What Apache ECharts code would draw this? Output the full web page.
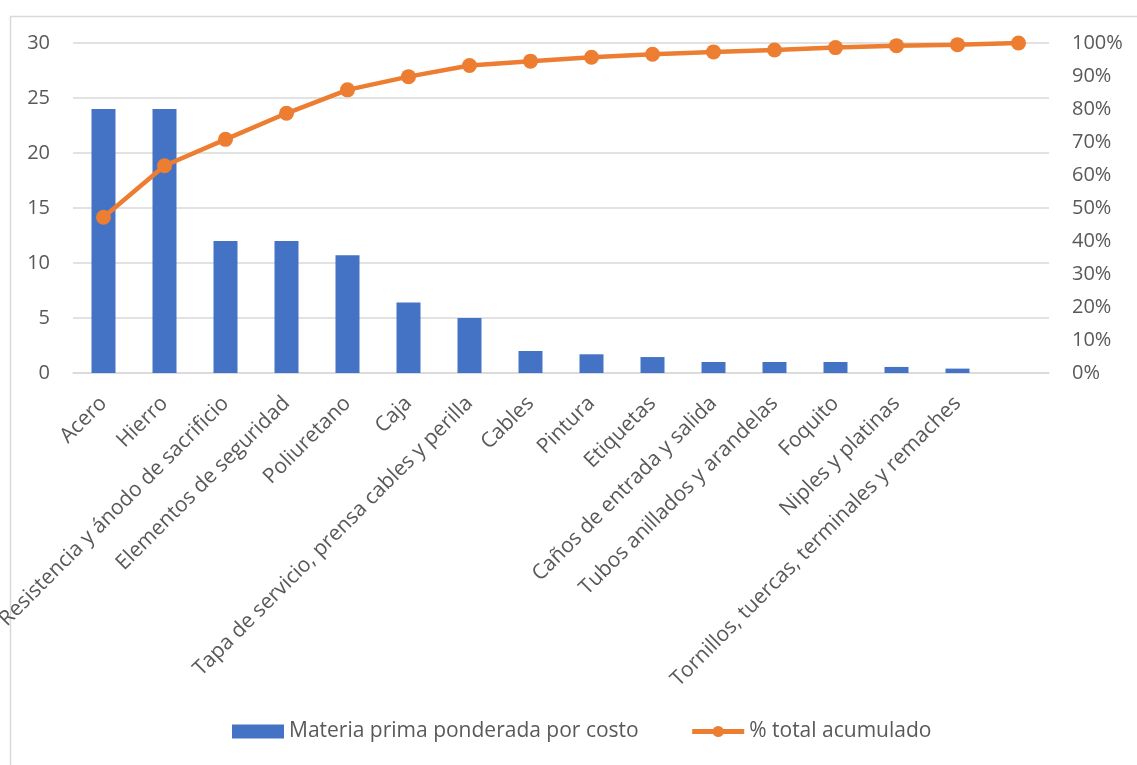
<!DOCTYPE html>
<html>
<head>
<meta charset="utf-8">
<script src="https://cdn.jsdelivr.net/npm/echarts@6/dist/echarts.min.js"></script>
<style>html,body{margin:0;padding:0;background:#fff;}#c{width:1137px;height:765px;}</style>
</head>
<body>
<div id="c"></div>
<script>
const categories = ['Acero','Hierro','Resistencia y ánodo de sacrificio','Elementos de seguridad','Poliuretano','Caja','Tapa de servicio, prensa cables y perilla','Cables','Pintura','Etiquetas','Caños de entrada y salida','Tubos anillados y arandelas','Foquito','Niples y platinas','Tornillos, tuercas, terminales y remaches',''];
const costValues = [24, 24, 12, 12, 10.7, 6.4, 5.0, 2.0, 1.7, 1.45, 1.0, 1.0, 1.0, 0.55, 0.4, null];
const cumulativePct = [47.2, 62.8, 70.8, 78.7, 85.8, 89.8, 93.2, 94.5, 95.7, 96.6, 97.3, 97.9, 98.6, 99.2, 99.5, 100];
const leftTicks = {min: 0, max: 30, interval: 5};
const rightTicks = {min: 0, max: 100, interval: 10};
const seriesNames = ['Materia prima ponderada por costo', '% total acumulado'];

const FONT = '"Open Sans", Lato, sans-serif';
const chart = echarts.init(document.getElementById('c'), null, {renderer: 'canvas'});
chart.setOption({
  backgroundColor: '#fff',
  animation: false,
  textStyle: {fontFamily: FONT},
  graphic: [{
    type: 'rect', left: 8, top: 14,
    shape: {width: 1140, height: 760},
    style: {fill: 'none', stroke: '#d9d9d9', lineWidth: 1.5},
    silent: true, z: -10
  }],
  grid: {left: 73, right: 88, top: 43, bottom: 392, containLabel: false, outerBoundsMode: 'none'},
  legend: {
    left: 232, top: 721,
    padding: 0,
    itemGap: 51,
    itemWidth: 52, itemHeight: 14,
    textStyle: {fontFamily: FONT, fontSize: 21, color: '#595959'},
    data: [
      {name: seriesNames[0], icon: 'rect'},
      {name: seriesNames[1], itemStyle: {color: '#ed7d31'}, lineStyle: {width: 5, color: '#ed7d31'}}
    ]
  },
  xAxis: {
    type: 'category',
    data: categories,
    axisLine: {lineStyle: {color: '#d9d9d9', width: 1.5}},
    axisTick: {show: false},
    axisLabel: {interval: 0, rotate: 45, margin: 27, color: '#595959', fontSize: 21, fontFamily: FONT}
  },
  yAxis: [{
    type: 'value', min: leftTicks.min, max: leftTicks.max, interval: leftTicks.interval,
    axisLine: {show: false}, axisTick: {show: false},
    axisLabel: {color: '#595959', fontSize: 20, margin: 23, fontFamily: FONT},
    splitLine: {lineStyle: {color: '#d9d9d9', width: 1.5}}
  }, {
    type: 'value', min: rightTicks.min, max: rightTicks.max, interval: rightTicks.interval,
    axisLine: {show: false}, axisTick: {show: false},
    axisLabel: {color: '#595959', fontSize: 20, margin: 23, formatter: '{value}%', fontFamily: FONT},
    splitLine: {show: false}
  }],
  series: [{
    name: seriesNames[0],
    type: 'bar',
    data: costValues,
    barWidth: 24,
    itemStyle: {color: '#4472c4'},
    yAxisIndex: 0
  }, {
    name: seriesNames[1],
    type: 'line',
    data: cumulativePct,
    yAxisIndex: 1,
    symbol: 'circle',
    symbolSize: 15,
    lineStyle: {color: '#ed7d31', width: 4.5},
    itemStyle: {color: '#ed7d31'}
  }]
});
</script>
</body>
</html>
